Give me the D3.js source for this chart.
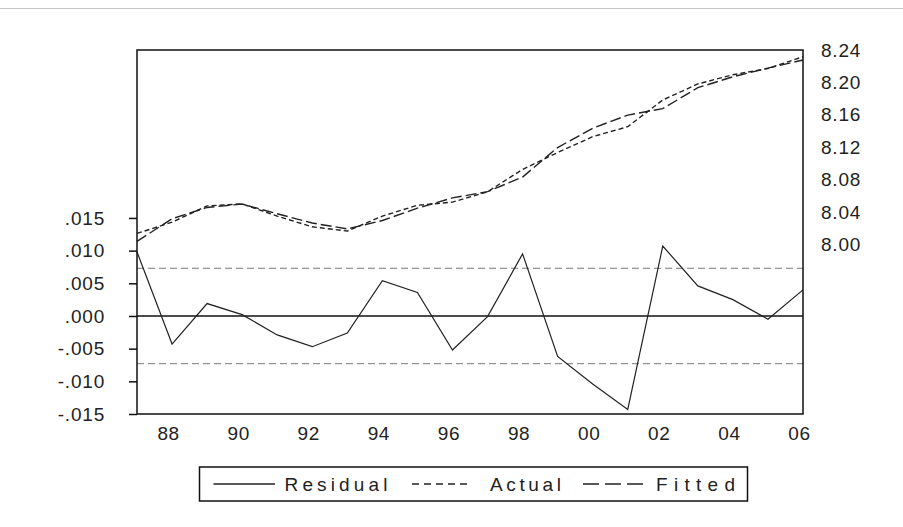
<!DOCTYPE html>
<html>
<head>
<meta charset="utf-8">
<script src="https://cdn.jsdelivr.net/npm/d3@7"></script>
<style>
  html, body { margin: 0; padding: 0; background: #fff; }
  svg { display: block; font-family: "Liberation Sans", Arial, sans-serif; }
</style>
</head>
<body>
<svg id="chart" width="903" height="527"></svg>
<script>
// ---- data ----
const years = [1987, 1988, 1989, 1990, 1991, 1992, 1993, 1994, 1995, 1996,
               1997, 1998, 1999, 2000, 2001, 2002, 2003, 2004, 2005, 2006];
const residual = [0.0098, -0.0043, 0.0019, 0.0002, -0.0029, -0.0047, -0.0026, 0.0054, 0.0036, -0.0052,
                  -0.0001, 0.0095, -0.0062, -0.0104, -0.0143, 0.0107, 0.0046, 0.0025, -0.0005, 0.0040];
const actual = [8.0135, 8.0274, 8.0475, 8.0500, 8.0349, 8.0217, 8.0165, 8.0349, 8.0483, 8.0522,
                8.0650, 8.0926, 8.1134, 8.1330, 8.1453, 8.1783, 8.1981, 8.2094, 8.2172, 8.2317];
const fitted = [8.0037, 8.0317, 8.0456, 8.0498, 8.0378, 8.0264, 8.0191, 8.0295, 8.0447, 8.0574,
                8.0651, 8.0831, 8.1196, 8.1434, 8.1596, 8.1676, 8.1935, 8.2069, 8.2177, 8.2277];
const seBand = [0.0073, -0.0073];
const xTickYears = [1988, 1990, 1992, 1994, 1996, 1998, 2000, 2002, 2004, 2006];
const xTickLabels = ["88", "90", "92", "94", "96", "98", "00", "02", "04", "06"];
const leftTicks = [0.015, 0.010, 0.005, 0.000, -0.005, -0.010, -0.015];
const leftTickLabels = [".015", ".010", ".005", ".000", "-.005", "-.010", "-.015"];
const rightTicks = [8.24, 8.20, 8.16, 8.12, 8.08, 8.04, 8.00];
const rightTickLabels = ["8.24", "8.20", "8.16", "8.12", "8.08", "8.04", "8.00"];
const legendNames = ["Residual", "Actual", "Fitted"];

// ---- layout ----
const L = 137, R = 803, T = 50, B = 414;
const svg = d3.select("#chart");

const x = d3.scaleLinear().domain([1987, 2006]).range([L, R]);
const yL = d3.scaleLinear().domain([-0.015, 0.0407]).range([B, T]);
const yR = d3.scaleLinear().domain([7.7906, 8.24]).range([B, T]);

// top thin separator
svg.append("line").attr("x1", 0).attr("x2", 903).attr("y1", 8.5).attr("y2", 8.5)
  .attr("stroke", "#c8c8c8").attr("stroke-width", 1);

// SE band dashed lines
svg.selectAll("line.se").data(seBand).enter().append("line")
  .attr("class", "se")
  .attr("x1", L).attr("x2", R)
  .attr("y1", d => yL(d)).attr("y2", d => yL(d))
  .attr("stroke", "#7a7a7a").attr("stroke-width", 1)
  .attr("stroke-dasharray", "7,4");

// zero line
svg.append("line").attr("x1", L).attr("x2", R)
  .attr("y1", yL(0)).attr("y2", yL(0))
  .attr("stroke", "#111").attr("stroke-width", 1.5);

const idx = d3.range(years.length);

// residual
svg.append("path")
  .attr("d", d3.line().x(i => x(years[i])).y(i => yL(residual[i]))(idx))
  .attr("fill", "none").attr("stroke", "#222").attr("stroke-width", 1.2);

// actual
svg.append("path")
  .attr("d", d3.line().x(i => x(years[i])).y(i => yR(actual[i]))(idx))
  .attr("fill", "none").attr("stroke", "#222").attr("stroke-width", 1.4)
  .attr("stroke-dasharray", "5,3");

// fitted
svg.append("path")
  .attr("d", d3.line().x(i => x(years[i])).y(i => yR(fitted[i]))(idx))
  .attr("fill", "none").attr("stroke", "#222").attr("stroke-width", 1.4)
  .attr("stroke-dasharray", "11,4");

// frame
svg.append("rect").attr("x", L).attr("y", T).attr("width", R - L).attr("height", B - T)
  .attr("fill", "none").attr("stroke", "#111").attr("stroke-width", 1.5);

const FS = 19;
// left axis
const leftAxis = d3.axisLeft(yL).tickValues(leftTicks)
  .tickFormat((d, i) => leftTickLabels[i]).tickSizeInner(8).tickSizeOuter(0).tickPadding(24);
const gL = svg.append("g").attr("transform", `translate(${L},0)`).call(leftAxis);
gL.select(".domain").remove();
gL.selectAll(".tick line").attr("stroke", "#111").attr("stroke-width", 1.5);
gL.selectAll(".tick text").attr("font-size", FS).attr("fill", "#222")
  .attr("letter-spacing", 0.8).attr("font-family", "Liberation Sans, Arial, sans-serif");

// right axis
const rightAxis = d3.axisRight(yR).tickValues(rightTicks)
  .tickFormat((d, i) => rightTickLabels[i]).tickSize(0).tickPadding(18);
const gR = svg.append("g").attr("transform", `translate(${R},0)`).call(rightAxis);
gR.select(".domain").remove();
gR.selectAll(".tick text").attr("font-size", FS).attr("fill", "#222")
  .attr("letter-spacing", 0.8).attr("font-family", "Liberation Sans, Arial, sans-serif");

// bottom axis
const bottomAxis = d3.axisBottom(x).tickValues(xTickYears)
  .tickFormat((d, i) => xTickLabels[i]).tickSize(0).tickPadding(13);
const gB = svg.append("g").attr("transform", `translate(0,${B})`).call(bottomAxis);
gB.select(".domain").remove();
gB.selectAll(".tick text").attr("font-size", FS).attr("fill", "#222")
  .attr("dx", -4).attr("letter-spacing", 0.6).attr("font-family", "Liberation Sans, Arial, sans-serif");

// legend
const lg = svg.append("g");
lg.append("rect").attr("x", 199.5).attr("y", 467).attr("width", 548).attr("height", 34)
  .attr("fill", "#fff").attr("stroke", "#111").attr("stroke-width", 1.5);
const legendItems = [
  { name: legendNames[0], x1: 213.5, x2: 275, dash: null, tx: 284.5, tw: 103 },
  { name: legendNames[1], x1: 412, x2: 471, dash: "7,5", tx: 490, tw: 71 },
  { name: legendNames[2], x1: 583, x2: 643, dash: "16,6", tx: 656, tw: 79 }
];
legendItems.forEach(it => {
  lg.append("line").attr("x1", it.x1).attr("x2", it.x2).attr("y1", 484).attr("y2", 484)
    .attr("stroke", "#222").attr("stroke-width", 1.3)
    .attr("stroke-dasharray", it.dash);
  lg.append("text").attr("x", it.tx).attr("y", 491)
    .attr("font-size", FS).attr("fill", "#222")
    .attr("textLength", it.tw).attr("lengthAdjust", "spacing")
    .text(it.name);
});
</script>
</body>
</html>
